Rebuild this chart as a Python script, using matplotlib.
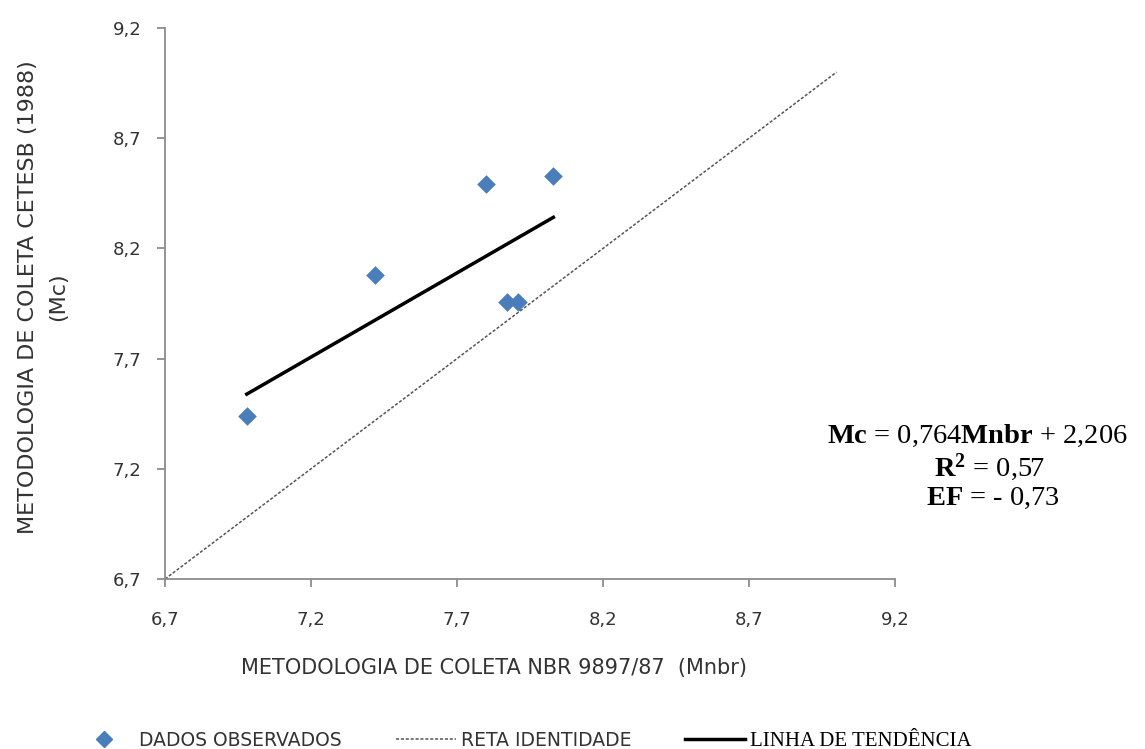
import numpy as np
import matplotlib
matplotlib.use('Agg')
import matplotlib.pyplot as plt
from matplotlib.lines import Line2D

mnbr = [6.98, 7.42, 7.80, 8.03, 7.87, 7.91]
mc = [7.44, 8.08, 8.49, 8.53, 7.955, 7.955]

identity_x = [6.7, 9.0]
slope, intercept = 0.764, 2.206
ticks = [6.7, 7.2, 7.7, 8.2, 8.7, 9.2]
tick_labels = ['6,7', '7,2', '7,7', '8,2', '8,7', '9,2']

plt.rcParams['mathtext.fontset'] = 'custom'
plt.rcParams['mathtext.rm'] = 'Liberation Serif'
plt.rcParams['mathtext.bf'] = 'Liberation Serif:bold'

fig = plt.figure(figsize=(11.45, 7.49), dpi=100)
ax = fig.add_axes([165 / 1145, 1 - 579 / 749, 730 / 1145, 551 / 749])

ax.plot(identity_x, identity_x, color='#555555', lw=1.1, dashes=(2, 1.2))
tx = np.array([min(mnbr), max(mnbr)])
ax.plot(tx, slope * tx + intercept, color='black', lw=2.5)
ax.scatter(mnbr, mc, marker='D', s=90, color='#4a7ebb', zorder=3, linewidths=0)

ax.set_xlim(6.7, 9.2)
ax.set_ylim(6.7, 9.2)
ax.set_xticks(ticks)
ax.set_xticklabels(tick_labels)
ax.set_yticks(ticks)
ax.set_yticklabels(tick_labels)
for s in ['top', 'right']:
    ax.spines[s].set_visible(False)
for s in ['left', 'bottom']:
    ax.spines[s].set_color('#8c8c8c')
    ax.spines[s].set_linewidth(1.3)
ax.tick_params(direction='out', length=6, color='#8c8c8c', width=1.3,
               labelsize=13, labelcolor='#333333')
ax.tick_params(axis='y', pad=11)
ax.tick_params(axis='x', pad=17)

ax.set_xlabel('METODOLOGIA DE COLETA NBR 9897/87  (Mnbr)', fontsize=15,
              color='#333333')
ax.xaxis.set_label_coords(0.451, -0.143)
ax.set_ylabel('METODOLOGIA DE COLETA CETESB (1988)\n(Mc)', fontsize=16,
              color='#333333', linespacing=1.6)
ax.yaxis.set_label_coords(-0.133, 0.512)

eq_kw = dict(family='Liberation Serif', fontsize=20.5, ha='center', va='center')
fig.text(977 / 1145, 1 - 436 / 749,
         r'$\mathbf{Mc}$ = 0,764$\mathbf{Mnbr}$ + 2,206', **eq_kw)
fig.text(990 / 1145, 1 - 467 / 749, r'$\mathbf{R^{2}}$ = 0,57', **eq_kw)
fig.text(993 / 1145, 1 - 498 / 749, r'$\mathbf{EF}$ = - 0,73', **eq_kw)

handles = [
    Line2D([], [], marker='D', ls='none', color='#4a7ebb', markersize=8),
    Line2D([], [], color='#555555', lw=1.1, dashes=(2, 1.2)),
    Line2D([], [], color='black', lw=2.5),
]
labels = ['DADOS OBSERVADOS', 'RETA IDENTIDADE', 'LINHA DE TENDÊNCIA']
leg = fig.legend(handles, labels, loc='center', bbox_to_anchor=(523 / 1145, 1 - 741 / 749),
                 ncol=3, frameon=False, fontsize=13.5, handlelength=3.2,
                 handletextpad=0.25, columnspacing=2.9)
for t in leg.get_texts()[:2]:
    t.set_color('#333333')
leg.get_texts()[2].set_family('Liberation Serif')
leg.get_texts()[2].set_fontsize(15)

fig.savefig('out.png', dpi=100)
